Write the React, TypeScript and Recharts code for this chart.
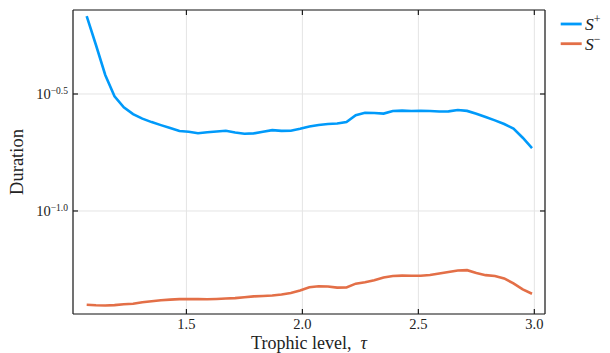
import { CartesianGrid, Label, Legend, Line, LineChart, XAxis, YAxis } from "recharts";

// trophic level sample points
const tau = [
  1.07, 1.11, 1.15, 1.19, 1.23, 1.27, 1.31, 1.35, 1.39, 1.43,
  1.47, 1.51, 1.55, 1.59, 1.63, 1.67, 1.71, 1.75, 1.79, 1.83,
  1.87, 1.91, 1.95, 1.99, 2.03, 2.07, 2.11, 2.15, 2.19, 2.23,
  2.27, 2.31, 2.35, 2.39, 2.43, 2.47, 2.51, 2.55, 2.59, 2.63,
  2.67, 2.71, 2.75, 2.79, 2.83, 2.87, 2.91, 2.95, 2.99,
];

// mean duration, S+
const sPlus = [
  0.681, 0.5122, 0.3813, 0.3094, 0.2774, 0.2595, 0.2482, 0.2398, 0.2328, 0.2263,
  0.2197, 0.218, 0.215, 0.2169, 0.2186, 0.2201, 0.2165, 0.2137, 0.2146, 0.218,
  0.2216, 0.2199, 0.2201, 0.2245, 0.2297, 0.2331, 0.2353, 0.2365, 0.24, 0.2567,
  0.2628, 0.2623, 0.2607, 0.2676, 0.2684, 0.2676, 0.2681, 0.2676, 0.2662, 0.2665,
  0.27, 0.2678, 0.2605, 0.2522, 0.2439, 0.2353, 0.225, 0.2056, 0.1858,
];

// mean duration, S-
const sMinus = [
  0.03973, 0.03954, 0.03946, 0.03958, 0.03993, 0.04013, 0.04076, 0.04113, 0.04153, 0.04178,
  0.04198, 0.04207, 0.04198, 0.04194, 0.04207, 0.04223, 0.0424, 0.04278, 0.04316, 0.04333,
  0.0435, 0.04397, 0.04462, 0.04574, 0.0472, 0.04767, 0.04753, 0.04702, 0.04706, 0.0489,
  0.04958, 0.05057, 0.05198, 0.05275, 0.05291, 0.05286, 0.05286, 0.05327, 0.05407, 0.05487,
  0.05569, 0.05585, 0.05433, 0.05317, 0.05275, 0.05147, 0.049, 0.04619, 0.04427,
];

const xTicks = [1.5, 2.0, 2.5, 3.0];
const yTicks = [10 ** -1.0, 10 ** -0.5];

const BLUE = "#009AFA";
const ORANGE = "#E36F47";
const FRAME = "#1c1c1c";
const TEXT = "#222";
const FONT = '"Liberation Serif", "DejaVu Serif", serif';
const TICK = 5;

const data = tau.map((t, i) => ({ tau: t, plus: sPlus[i], minus: sMinus[i] }));

const expLabel = (v: number) => Math.log10(v).toFixed(1).replace("-", "\u2212");

function BottomTick({ x, y, payload }: any) {
  return (
    <g>
      <line x1={x} x2={x} y1={y} y2={y - TICK} stroke={FRAME} strokeWidth={1.2} />
      <text x={x} y={y + 15} textAnchor="middle" fontSize={14.5} fontFamily={FONT} fill={TEXT}>
        {payload.value.toFixed(1)}
      </text>
    </g>
  );
}

function TopTick({ x, y }: any) {
  return <line x1={x} x2={x} y1={y} y2={y + TICK} stroke={FRAME} strokeWidth={1.2} />;
}

function LeftTick({ x, y, payload }: any) {
  return (
    <g>
      <line x1={x} x2={x + TICK} y1={y} y2={y} stroke={FRAME} strokeWidth={1.2} />
      <text x={x - 5} y={y + 5.5} textAnchor="end" fontSize={14.5} fontFamily={FONT} fill={TEXT}>
        10
        <tspan dy={-5.5} fontSize={9.5}>
          {expLabel(payload.value)}
        </tspan>
      </text>
    </g>
  );
}

function RightTick({ x, y }: any) {
  return <line x1={x} x2={x - TICK} y1={y} y2={y} stroke={FRAME} strokeWidth={1.2} />;
}

function SeriesKey() {
  const rows = [
    { color: BLUE, sign: "+", y: 24 },
    { color: ORANGE, sign: "\u2212", y: 43.7 },
  ];
  return (
    <svg width={54} height={56} style={{ overflow: "visible" }}>
      {rows.map((r) => (
        <g key={r.sign}>
          <line x1={4.7} x2={25.7} y1={r.y} y2={r.y} stroke={r.color} strokeWidth={2.8} />
          <text x={29} y={r.y + 6} fontSize={17.5} fontFamily={FONT} fontStyle="italic" fill={TEXT}>
            S
            <tspan dy={-7} fontSize={12} fontStyle="normal">
              {r.sign}
            </tspan>
          </text>
        </g>
      ))}
    </svg>
  );
}

export default function App() {
  return (
    <div style={{ position: "absolute", left: 0, top: 0 }}>
      <LineChart width={610} height={353} data={data} margin={{ top: 0, right: 0, bottom: 0, left: 0 }}>
        <CartesianGrid stroke="#e4e4e4" strokeWidth={1} />
        <XAxis
          dataKey="tau"
          type="number"
          domain={[1.011, 3.046]}
          ticks={xTicks}
          allowDataOverflow
          height={39}
          tickSize={0}
          tickMargin={0}
          tickLine={false}
          axisLine={{ stroke: FRAME, strokeWidth: 1.2 }}
          tick={<BottomTick />}
        >
          <Label
            content={(p: any) => {
              const vb = p.viewBox || { x: 73, width: 472 };
              return (
                <text x={vb.x + vb.width / 2} y={348.5} textAnchor="middle" fontSize={18} fontFamily={FONT} fill={TEXT}>
                  Trophic level,{"\u2002"}
                  <tspan fontStyle="italic">τ</tspan>
                </text>
              );
            }}
          />
        </XAxis>
        <XAxis
          xAxisId="top"
          orientation="top"
          dataKey="tau"
          type="number"
          domain={[1.011, 3.046]}
          ticks={xTicks}
          allowDataOverflow
          height={10}
          tickSize={0}
          tickMargin={0}
          tickLine={false}
          axisLine={{ stroke: FRAME, strokeWidth: 1.2 }}
          tick={<TopTick />}
        />
        <YAxis
          type="number"
          scale="log"
          domain={[0.03628, 0.7228]}
          ticks={yTicks}
          allowDataOverflow
          width={73}
          tickSize={0}
          tickMargin={0}
          tickLine={false}
          axisLine={{ stroke: FRAME, strokeWidth: 1.2 }}
          tick={<LeftTick />}
        >
          <Label
            content={(p: any) => {
              const vb = p.viewBox || { y: 10, height: 304 };
              const cy = vb.y + vb.height / 2;
              return (
                <text
                  x={23}
                  y={cy}
                  transform={`rotate(-90, 23, ${cy})`}
                  textAnchor="middle"
                  fontSize={18.5}
                  fontFamily={FONT}
                  fill={TEXT}
                >
                  Duration
                </text>
              );
            }}
          />
        </YAxis>
        <YAxis
          yAxisId="right"
          orientation="right"
          type="number"
          scale="log"
          domain={[0.03628, 0.7228]}
          ticks={yTicks}
          allowDataOverflow
          width={65}
          tickSize={0}
          tickMargin={0}
          tickLine={false}
          axisLine={{ stroke: FRAME, strokeWidth: 1.2 }}
          tick={<RightTick />}
        />
        <Legend
          layout="horizontal"
          align="center"
          verticalAlign="middle"
          wrapperStyle={{ left: 556, top: 0, width: 54 }}
          content={<SeriesKey />}
        />
        <Line
          dataKey="plus"
          name="S+"
          stroke={BLUE}
          strokeWidth={2.6}
          dot={false}
          type="linear"
          isAnimationActive={false}
        />
        <Line
          dataKey="minus"
          name="S−"
          stroke={ORANGE}
          strokeWidth={2.6}
          dot={false}
          type="linear"
          isAnimationActive={false}
        />
      </LineChart>
    </div>
  );
}
